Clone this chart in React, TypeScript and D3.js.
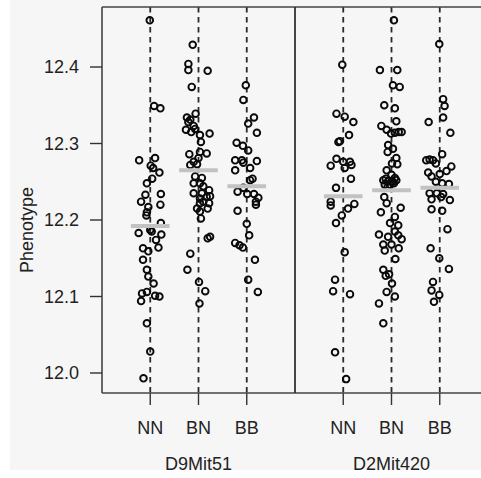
import React from "react";
import * as d3 from "d3";

const groups = ["NN", "BN", "BB"];
const markers = ["D9Mit51", "D2Mit420"];
const yTicks = [12.0, 12.1, 12.2, 12.3, 12.4];

// [value, jitter (in category units)]
const d9_NN: [number, number][] = [
  [12.461, -0.01], [12.349, 0.08], [12.346, 0.21], [12.278, -0.23], [12.281, 0.1], [12.271, 0.01],
  [12.268, 0.06], [12.262, 0.19], [12.254, 0.04], [12.248, -0.07], [12.233, -0.1], [12.234, 0.22],
  [12.224, -0.19], [12.22, 0.21], [12.217, -0.04], [12.21, -0.07], [12.206, -0.08], [12.196, 0.22],
  [12.187, 0.0], [12.185, 0.03], [12.183, -0.24], [12.181, 0.23], [12.174, 0.12], [12.163, -0.15],
  [12.164, 0.17], [12.159, -0.04], [12.148, -0.15], [12.135, -0.07], [12.126, -0.04], [12.117, 0.07],
  [12.106, -0.07], [12.104, -0.17], [12.101, 0.1], [12.1, 0.19], [12.094, -0.19], [12.065, -0.07],
  [12.028, 0.0], [11.993, -0.14],
];
const d9_BN: [number, number][] = [
  [12.429, -0.12], [12.404, -0.21], [12.396, -0.21], [12.395, 0.19], [12.374, -0.14], [12.339, -0.06],
  [12.334, -0.24], [12.331, -0.17], [12.328, -0.21], [12.323, -0.1], [12.318, -0.26], [12.315, -0.15],
  [12.319, -0.07], [12.311, 0.03], [12.313, 0.23], [12.302, 0.05], [12.286, -0.19], [12.289, 0.03],
  [12.287, 0.17], [12.281, 0.0], [12.276, -0.1], [12.272, -0.17], [12.273, -0.03], [12.257, -0.07],
  [12.255, 0.07], [12.248, -0.1], [12.248, 0.03], [12.244, 0.1], [12.239, 0.22], [12.235, -0.1],
  [12.235, 0.07], [12.23, 0.17], [12.231, 0.24], [12.228, 0.03], [12.224, 0.1], [12.222, 0.22],
  [12.222, 0.03], [12.215, -0.03], [12.215, 0.19], [12.211, 0.03], [12.202, 0.05], [12.176, 0.19],
  [12.178, 0.24], [12.156, -0.17], [12.135, -0.23], [12.119, 0.01], [12.107, 0.14], [12.091, 0.02],
];
const d9_BB: [number, number][] = [
  [12.376, -0.02], [12.357, -0.07], [12.334, 0.15], [12.326, 0.03], [12.314, 0.21], [12.301, -0.21],
  [12.297, -0.08], [12.291, 0.03], [12.278, -0.24], [12.278, -0.1], [12.275, -0.07], [12.277, 0.21],
  [12.265, -0.24], [12.268, 0.07], [12.252, 0.07], [12.254, 0.12], [12.237, -0.19], [12.242, -0.07],
  [12.234, 0.01], [12.234, 0.15], [12.229, 0.24], [12.22, 0.19], [12.224, 0.19], [12.212, -0.19],
  [12.195, 0.0], [12.18, 0.05], [12.17, -0.24], [12.167, -0.15], [12.164, -0.08], [12.148, 0.17],
  [12.122, 0.03], [12.106, 0.23],
];
const d2_NN: [number, number][] = [
  [12.403, -0.02], [12.339, -0.14], [12.335, 0.03], [12.328, 0.21], [12.311, 0.12], [12.302, -0.1],
  [12.303, -0.07], [12.28, -0.14], [12.271, -0.26], [12.276, 0.0], [12.276, 0.14], [12.272, 0.17],
  [12.268, 0.03], [12.254, 0.16], [12.242, -0.15], [12.224, -0.26], [12.219, -0.26], [12.221, 0.23],
  [12.215, 0.1], [12.206, -0.03], [12.196, -0.15], [12.158, 0.03], [12.122, -0.17], [12.107, -0.21],
  [12.103, 0.14], [12.027, -0.17], [11.992, 0.06],
];
const d2_BN: [number, number][] = [
  [12.461, 0.05], [12.396, -0.24], [12.396, 0.12], [12.376, 0.03], [12.374, 0.17], [12.35, -0.15],
  [12.346, 0.07], [12.329, 0.1], [12.323, -0.21], [12.318, -0.1], [12.313, -0.01], [12.314, 0.07],
  [12.315, 0.15], [12.315, 0.21], [12.298, -0.07], [12.293, 0.03], [12.289, -0.08], [12.281, 0.1],
  [12.274, 0.01], [12.273, 0.12], [12.265, -0.1], [12.259, 0.0], [12.255, 0.07], [12.252, -0.17],
  [12.251, -0.07], [12.25, 0.03], [12.252, 0.1], [12.246, -0.14], [12.246, -0.03], [12.248, 0.05],
  [12.243, -0.08], [12.254, -0.12], [12.23, -0.15], [12.222, -0.1], [12.216, 0.19], [12.21, -0.22],
  [12.204, 0.07], [12.196, -0.03], [12.193, 0.14], [12.181, -0.26], [12.178, -0.07], [12.185, 0.07],
  [12.18, 0.14], [12.175, 0.21], [12.168, -0.17], [12.168, 0.0], [12.16, -0.14], [12.163, 0.15],
  [12.149, 0.08], [12.135, -0.17], [12.127, -0.12], [12.129, -0.05], [12.117, 0.01], [12.106, -0.1],
  [12.1, 0.07], [12.091, -0.26], [12.065, -0.17],
];
const d2_BB: [number, number][] = [
  [12.43, -0.01], [12.358, 0.07], [12.349, 0.1], [12.328, -0.23], [12.334, 0.07], [12.314, 0.22],
  [12.286, 0.05], [12.278, -0.28], [12.279, -0.21], [12.278, -0.14], [12.274, -0.08], [12.27, 0.24],
  [12.264, 0.14], [12.262, -0.24], [12.26, 0.0], [12.257, -0.17], [12.25, -0.08], [12.248, 0.05],
  [12.247, 0.19], [12.235, -0.21], [12.235, -0.06], [12.234, 0.07], [12.227, -0.17], [12.23, 0.03],
  [12.226, 0.21], [12.214, -0.17], [12.212, 0.05], [12.188, 0.16], [12.163, -0.19], [12.15, -0.01],
  [12.136, 0.19], [12.119, -0.14], [12.108, -0.17], [12.102, -0.01], [12.093, -0.12],
];
const d9_means = [12.192, 12.265, 12.244];
const d2_means = [12.231, 12.239, 12.242];

const panelData = [
  { name: markers[0], series: [d9_NN, d9_BN, d9_BB], means: d9_means },
  { name: markers[1], series: [d2_NN, d2_BN, d2_BB], means: d2_means },
];

const W = 481;
const H = 478;
const top = 7;
const bottom = 393;
const left = 102;
const panelW = 193;
const font = "'Liberation Sans', Arial, Helvetica, sans-serif";

export default function App() {
  const y = d3.scaleLinear().domain([12.0, 12.4]).range([373, 67]);
  return (
    <svg width={W} height={H} style={{ position: "absolute", left: 0, top: 0 }} fontFamily={font}>
      <rect x={0} y={0} width={W} height={H} fill="#ffffff" />
      <rect x={10} y={0} width={W - 10} height={470} fill="#f6f6f6" />
      {panelData.map((p, pi) => {
        const x0 = left + pi * panelW;
        const x = d3.scaleLinear().domain([0, 4]).range([x0, x0 + panelW]);
        return (
          <g key={p.name}>
            {groups.map((g, gi) => (
              <line key={"d" + g} x1={x(gi + 1)} x2={x(gi + 1)} y1={top} y2={bottom}
                stroke="#2a2a2a" strokeWidth={1.8} strokeDasharray="5.5,4.5" />
            ))}
            {p.series.map((s, gi) =>
              s.map((d, i) => (
                <circle key={gi + "-" + i} cx={x(gi + 1 + d[1])} cy={y(d[0])} r={3.3}
                  fill="none" stroke="#0a0a0a" strokeWidth={1.9} />
              ))
            )}
            {p.means.map((m, gi) => (
              <line key={"m" + gi} x1={x(gi + 1 - 0.4)} x2={x(gi + 1 + 0.4)} y1={y(m)} y2={y(m)}
                stroke="#c2c2c2" strokeWidth={4} />
            ))}
            {groups.map((g, gi) => (
              <g key={"t" + g}>
                <line x1={x(gi + 1)} x2={x(gi + 1)} y1={bottom} y2={bottom + 12} stroke="#333" strokeWidth={1.4} />
                <text x={x(gi + 1)} y={434} textAnchor="middle" fontSize={18} fill="#222">{g}</text>
              </g>
            ))}
            <text x={x(2)} y={470} textAnchor="middle" fontSize={18} fill="#222">{p.name}</text>
          </g>
        );
      })}
      {/* frame */}
      <line x1={left} x2={W} y1={top} y2={top} stroke="#444" strokeWidth={1.6} />
      <line x1={left} x2={W} y1={bottom} y2={bottom} stroke="#444" strokeWidth={1.6} />
      <line x1={left} x2={left} y1={top} y2={bottom} stroke="#444" strokeWidth={1.6} />
      <line x1={left + panelW} x2={left + panelW} y1={top} y2={bottom} stroke="#333" strokeWidth={1.8} />
      {yTicks.map((t) => (
        <g key={t}>
          <line x1={90} x2={left} y1={y(t)} y2={y(t)} stroke="#333" strokeWidth={1.4} />
          <text x={79} y={y(t)} dy="0.35em" textAnchor="end" fontSize={18} fill="#222">{t.toFixed(1)}</text>
        </g>
      ))}
      <text transform={`translate(33,${y(12.2) + 10}) rotate(-90)`} textAnchor="middle" fontSize={18} fill="#222">Phenotype</text>
    </svg>
  );
}
